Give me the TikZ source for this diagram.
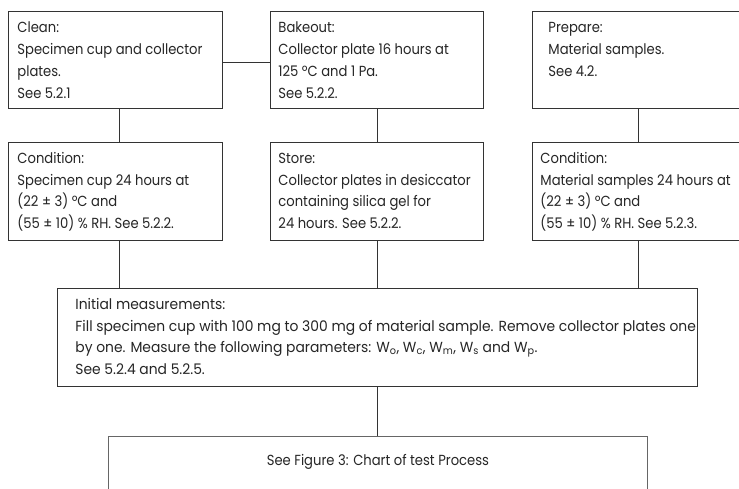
\documentclass[tikz,border=0pt]{standalone}
\usepackage{fontspec}
\setmainfont{Poppins}[FakeStretch=0.9]
\newfontfamily\widefont{Poppins}[FakeStretch=0.95]
\usetikzlibrary{calc}

% top-aligned cell: width, height, left indent, top gap, text
\newcommand\cell[5]{\parbox[t][#2][t]{#1}{\leftskip=#3\relax\rightskip=0pt plus 1fil\parindent=0pt\vspace*{#4}\strut #5}}

\tikzset{
  x=1pt, y=-1pt,
  box/.style={draw=black!80, line width=0.9pt, inner sep=0pt, anchor=north west,
              text=black!85, font=\fontsize{14.6}{21.8}\selectfont},
  link/.style={draw=black!80, line width=0.8pt},
}

\begin{document}
\begin{tikzpicture}
\useasboundingbox[fill=white] (0,0) rectangle (739,489);

% first row
\node[box] (clean) at (8,11) {\cell{214pt}{97pt}{9pt}{6pt}{Clean:\\Specimen cup and collector\\plates.\\See 5.2.1}};
\node[box] (bake) at (270,11) {\cell{213pt}{97pt}{8pt}{6pt}{Bakeout:\\Collector plate 16 hours at\\125 ºC and 1 Pa.\\See 5.2.2.}};
\node[box] (prep) at (532,11) {\cell{212pt}{97pt}{16pt}{6pt}{Prepare:\\Material samples.\\See 4.2.}};

% second row
\node[box] (cond1) at (8,142) {\cell{214pt}{98pt}{9pt}{5.5pt}{Condition:\\Specimen cup 24 hours at\\(22 ± 3) ºC and\\(55 ± 10) \% RH. See 5.2.2.}};
\node[box] (store) at (270,142) {\cell{213pt}{98pt}{8pt}{5.5pt}{Store:\\Collector plates in desiccator\\containing silica gel for\\24 hours. See 5.2.2.}};
\node[box] (cond2) at (532,142) {\cell{212pt}{98pt}{8pt}{5.5pt}{Condition:\\Material samples 24 hours at\\(22 ± 3) ºC and\\(55 ± 10) \% RH. See 5.2.3.}};

% measurements
\node[box, font=\widefont\fontsize{14.6}{21.8}\selectfont] (init) at (57,288) {\cell{640pt}{98pt}{18pt}{5.5pt}{Initial measurements:\\Fill specimen cup with 100 mg to 300 mg of material sample. Remove collector plates one\\by one. Measure the following parameters: W\textsubscript{o}, W\textsubscript{c}, W\textsubscript{m}, W\textsubscript{s} and W\textsubscript{p}.\\See 5.2.4 and 5.2.5.}};

% next stage
\node[box, draw=black!60] (next) at (108,436) {\parbox[t][70pt][t]{539pt}{\centering\vspace*{14pt}\strut See Figure 3: Chart of test Process}};

% connectors
\coordinate (c1) at ([xshift=4pt]cond1.south);
\coordinate (c2) at (store.south);
\coordinate (c3) at (cond2.south);
\coordinate (c4) at (init.south);
\draw[link] ([yshift=-2pt]clean.east) -- ([yshift=-2pt]bake.west);
\draw[link] ([xshift=4pt]clean.south) -- ([xshift=4pt]cond1.north);
\draw[link] (bake.south) -- (store.north);
\draw[link] (prep.south) -- (cond2.north);
\draw[link] (c1) -- (c1 |- init.north);
\draw[link] (c2) -- (c2 |- init.north);
\draw[link] (c3) -- (c3 |- init.north);
\draw[link] (c4) -- (c4 |- next.north);
\end{tikzpicture}
\end{document}
